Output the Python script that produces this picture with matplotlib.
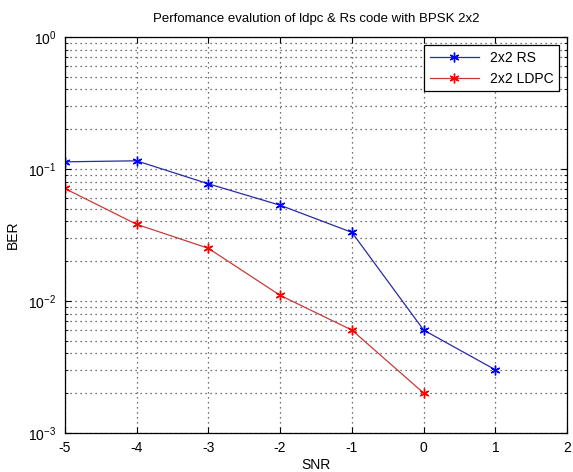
import matplotlib.pyplot as plt

# BER vs SNR readings
snr_rs = [-5, -4, -3, -2, -1, 0, 1]
ber_rs = [0.113, 0.115, 0.077, 0.053, 0.033, 0.006, 0.003]
snr_ldpc = [-5, -4, -3, -2, -1, 0]
ber_ldpc = [0.071, 0.038, 0.025, 0.011, 0.006, 0.002]

plt.rcParams["font.family"] = ["Liberation Sans", "DejaVu Sans"]
plt.rcParams["font.size"] = 10
plt.rcParams["axes.unicode_minus"] = False
plt.rcParams["mathtext.fontset"] = "custom"
plt.rcParams["mathtext.rm"] = "Liberation Sans"
plt.rcParams["mathtext.it"] = "Liberation Sans"

fig = plt.figure(figsize=(5.73, 4.72), dpi=100)
ax = fig.add_axes([0.113, 0.083, 0.877, 0.839])

asterisk = (6, 2, 0)
ax.semilogy(snr_rs, ber_rs, color="#2a2aa8", linewidth=0.9,
            marker=asterisk, markersize=7, markeredgecolor="#0000ff",
            markerfacecolor="#0000ff", markeredgewidth=1.0, label="2x2 RS")
ax.semilogy(snr_ldpc, ber_ldpc, color="#c83a3a", linewidth=0.9,
            marker=asterisk, markersize=7, markeredgecolor="#ff0000",
            markerfacecolor="#ff0000", markeredgewidth=1.0, label="2x2 LDPC")

ax.set_xlim(-5, 2)
ax.set_ylim(1e-3, 1)
ax.set_xticks(range(-5, 3))
dots = (0, (1, 3))
ax.grid(True, which="major", linestyle=dots, color="#444444", linewidth=0.9)
ax.grid(True, which="minor", linestyle=dots, color="#444444", linewidth=0.9)
ax.tick_params(which="both", direction="in", top=True, right=True)
ax.tick_params(which="major", length=4, pad=6)
ax.tick_params(which="minor", length=2)
for s in ax.spines.values():
    s.set_linewidth(0.9)

ax.set_title("Perfomance evalution of ldpc & Rs code with BPSK 2x2",
             fontsize=9.5, pad=11)
ax.set_xlabel("SNR", labelpad=2)
ax.set_ylabel("BER", labelpad=6)

leg = ax.legend(loc="upper right", fancybox=False, edgecolor="black",
                framealpha=1, handlelength=3.5, borderaxespad=0.6)
leg.get_frame().set_linewidth(0.9)

fig.savefig("out.png", dpi=100)
